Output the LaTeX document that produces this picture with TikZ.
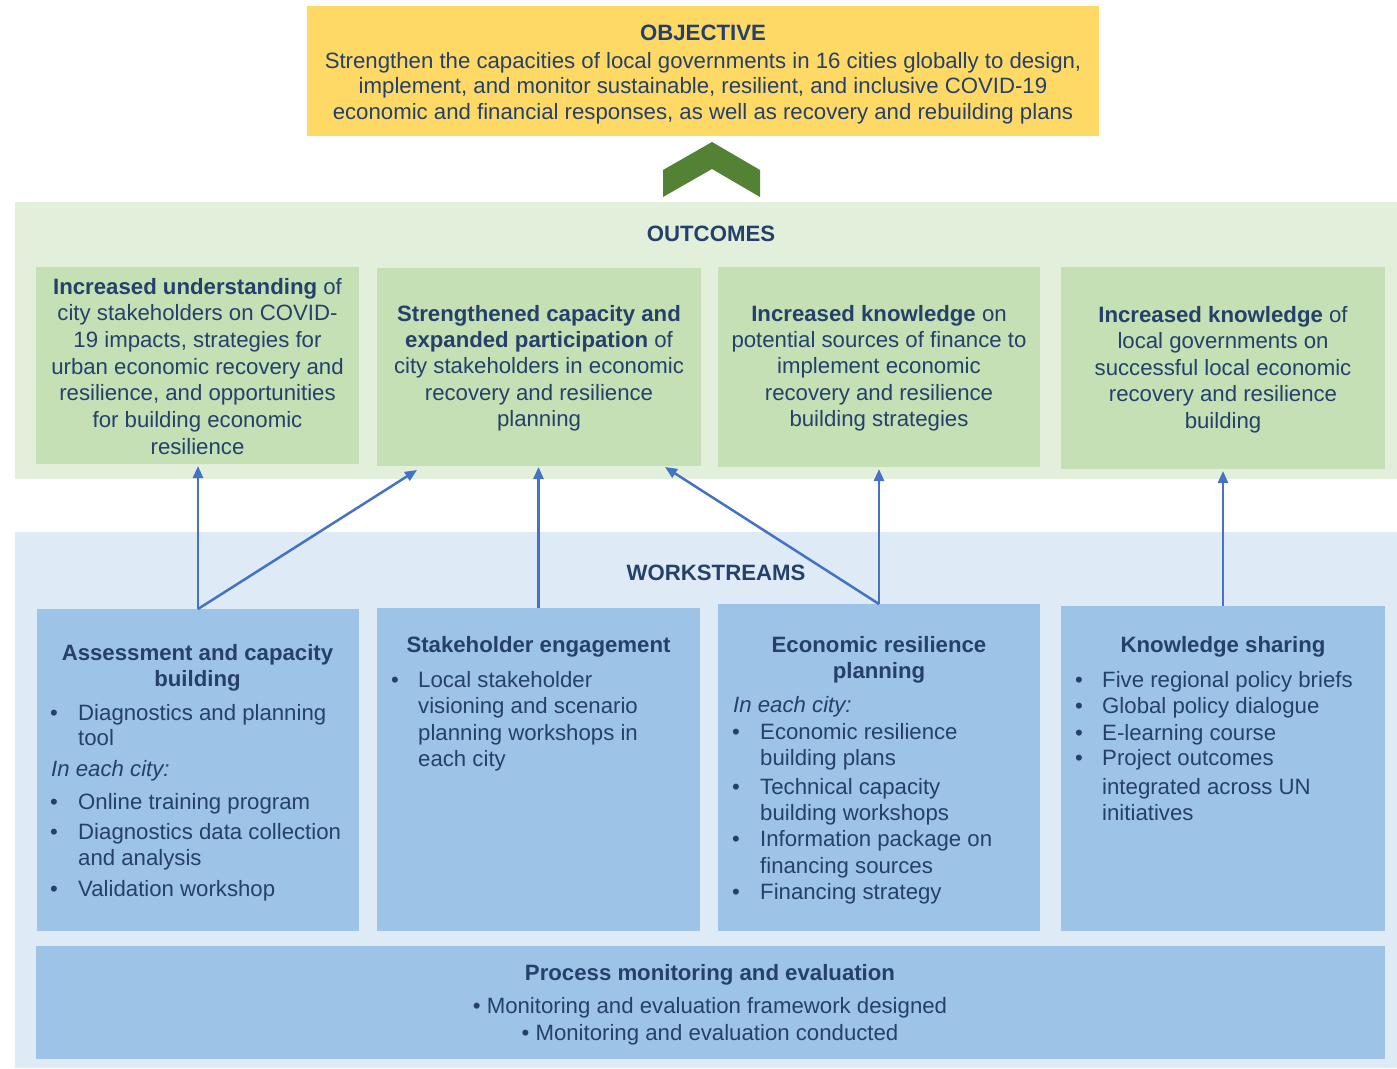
\documentclass[tikz,border=0pt]{standalone}
\usepackage{fontspec}
\setmainfont{Liberation Sans}
\usetikzlibrary{arrows.meta}
\definecolor{tb}{HTML}{25406B}
\definecolor{objyellow}{HTML}{FFD966}
\definecolor{chevgreen}{HTML}{548235}
\definecolor{outbgc}{HTML}{E2EFDA}
\definecolor{outboxc}{HTML}{C5E0B4}
\definecolor{wsbgc}{HTML}{DEEBF7}
\definecolor{wsboxc}{HTML}{9DC3E6}
\definecolor{arrc}{HTML}{4472C4}
\newcommand\mlines[5]{%
  \foreach \t [count=\k from 0] in {#5} {\node[ctr] (#1-\k) at (#2, {#3+#4*\k}) {\t};}}
\begin{document}
\begin{tikzpicture}[x=1pt,y=-1pt,
  rect/.style={inner sep=0pt, outer sep=0pt, draw=none},
  txtfont/.style={font=\fontsize{22.2}{26}\selectfont, text=tb, inner sep=0pt},
  ctr/.style={txtfont, anchor=base},
  lft/.style={txtfont, anchor=base west},
  bul/.style={txtfont, anchor=base},
  conn/.style={draw=arrc, line width=2.5pt, -{Triangle[length=12pt,width=10pt]}}]
\useasboundingbox (0,0) rectangle (1397,1068);

% objective
\node[rect, fill=objyellow, minimum width=792, minimum height=130] (obj) at (703,71) {};
\node[ctr] (objt) at (703,40) {\textbf{OBJECTIVE}};
\mlines{objl}{703}{68}{25.5}{{Strengthen the capacities of local governments in 16 cities globally to design,},{implement, and monitor sustainable, resilient, and inclusive COVID-19},{economic and financial responses, as well as recovery and rebuilding plans}}

% chevron
\fill[chevgreen] (663,197) -- (663,170) -- (712,142) -- (760,170) -- (760,197) -- (712,169) -- cycle;

% outcomes
\node[rect, fill=outbgc, minimum width=1382, minimum height=277] (outbg) at (706,340.5) {};
\node[ctr] (outt) at (711,241.7) {\textbf{OUTCOMES}};
\node[rect, fill=outboxc, minimum width=323, minimum height=197] (o1) at (197.5,365.5) {};
\node[rect, fill=outboxc, minimum width=324, minimum height=198] (o2) at (539,367) {};
\node[rect, fill=outboxc, minimum width=322, minimum height=200] (o3) at (879,367) {};
\node[rect, fill=outboxc, minimum width=324, minimum height=202] (o4) at (1223,368) {};
\mlines{o1l}{197.5}{294}{26.7}{{\textbf{Increased understanding} of},{city stakeholders on COVID-},{19 impacts, strategies for},{urban economic recovery and},{resilience, and opportunities},{for building economic},{resilience}}
\mlines{o2l}{539}{321}{26.4}{{\textbf{Strengthened capacity and}},{\textbf{expanded participation} of},{city stakeholders in economic},{recovery and resilience},{planning}}
\mlines{o3l}{879}{321}{26.4}{{\textbf{Increased knowledge} on},{potential sources of finance to},{implement economic},{recovery and resilience},{building strategies}}
\mlines{o4l}{1223}{322}{26.5}{{\textbf{Increased knowledge} of},{local governments on},{successful local economic},{recovery and resilience},{building}}

% workstreams
\node[rect, fill=wsbgc, minimum width=1382, minimum height=536] (wsbg) at (706,800) {};
\node[ctr] (wst) at (716,580) {\textbf{WORKSTREAMS}};
\node[rect, fill=wsboxc, minimum width=322, minimum height=322] (w1) at (198,770) {};
\node[rect, fill=wsboxc, minimum width=323, minimum height=323] (w2) at (538.5,769.5) {};
\node[rect, fill=wsboxc, minimum width=322, minimum height=327] (w3) at (879,767.5) {};
\node[rect, fill=wsboxc, minimum width=324, minimum height=325] (w4) at (1223,768.5) {};
\node[rect, fill=wsboxc, minimum width=1349, minimum height=113] (pm) at (710.5,1002.5) {};

% workstream 1
\node[ctr] (w1t1) at (197.5,660) {\textbf{Assessment and capacity}};
\node[ctr] (w1t2) at (197.5,686) {\textbf{building}};
\node[bul] (w1b1) at (54,720.7) {•};
\node[lft] (w1a1) at (78,720.7) {Diagnostics and planning};
\node[lft] (w1a2) at (78,745.7) {tool};
\node[lft] (w1i) at (51,776.7) {\itshape In each city:};
\node[bul] (w1b2) at (54,809) {•};
\node[lft] (w1a3) at (78,809) {Online training program};
\node[bul] (w1b3) at (54,839.3) {•};
\node[lft] (w1a4) at (78,839.3) {Diagnostics data collection};
\node[lft] (w1a5) at (78,865) {and analysis};
\node[bul] (w1b4) at (54,896) {•};
\node[lft] (w1a6) at (78,896) {Validation workshop};

% workstream 2
\node[ctr] (w2t1) at (538.5,652.7) {\textbf{Stakeholder engagement}};
\node[bul] (w2b1) at (395,687.3) {•};
\node[lft] (w2a1) at (418,687.3) {Local stakeholder};
\node[lft] (w2a2) at (418,713.3) {visioning and scenario};
\node[lft] (w2a3) at (418,740) {planning workshops in};
\node[lft] (w2a4) at (418,766) {each city};

% workstream 3
\node[ctr] (w3t1) at (879,652) {\textbf{Economic resilience}};
\node[ctr] (w3t2) at (879,678) {\textbf{planning}};
\node[lft] (w3i) at (733,712) {\itshape In each city:};
\node[bul] (w3b1) at (736,739.3) {•};
\node[lft] (w3a1) at (760,739.3) {Economic resilience};
\node[lft] (w3a2) at (760,765) {building plans};
\node[bul] (w3b2) at (736,794.3) {•};
\node[lft] (w3a3) at (760,794.3) {Technical capacity};
\node[lft] (w3a4) at (760,820) {building workshops};
\node[bul] (w3b3) at (736,846.7) {•};
\node[lft] (w3a5) at (760,846.7) {Information package on};
\node[lft] (w3a6) at (760,873.3) {financing sources};
\node[bul] (w3b4) at (736,899.3) {•};
\node[lft] (w3a7) at (760,899.3) {Financing strategy};

% workstream 4
\node[ctr] (w4t1) at (1223,652) {\textbf{Knowledge sharing}};
\node[bul] (w4b1) at (1079,687.3) {•};
\node[lft] (w4a1) at (1102,687.3) {Five regional policy briefs};
\node[bul] (w4b2) at (1079,713.3) {•};
\node[lft] (w4a2) at (1102,713.3) {Global policy dialogue};
\node[bul] (w4b3) at (1079,740) {•};
\node[lft] (w4a3) at (1102,740) {E-learning course};
\node[bul] (w4b4) at (1079,765.7) {•};
\node[lft] (w4a4) at (1102,765.7) {Project outcomes};
\node[lft] (w4a5) at (1102,794.3) {integrated across UN};
\node[lft] (w4a6) at (1102,820) {initiatives};

% process monitoring
\node[ctr] (pmt) at (710,980) {\textbf{Process monitoring and evaluation}};
\node[ctr] (pma) at (710,1013.3) {• Monitoring and evaluation framework designed};
\node[ctr] (pmb) at (710,1040) {• Monitoring and evaluation conducted};

% arrow tips
\coordinate (t1) at (198,466);
\coordinate (t2) at (417,470);
\coordinate (t3) at (538.5,467);
\coordinate (t4) at (665,467);
\coordinate (t5) at (879,469);
\coordinate (t6) at (1223,471);
\draw[conn] (w1.north) -- (t1);
\draw[conn] (w1.north) -- (t2);
\draw[conn] (w2.north) -- (t3);
\draw[conn] (w3.north) -- (t4);
\draw[conn] (w3.north) -- (t5);
\draw[conn] (w4.north) -- (t6);
\end{tikzpicture}
\end{document}
